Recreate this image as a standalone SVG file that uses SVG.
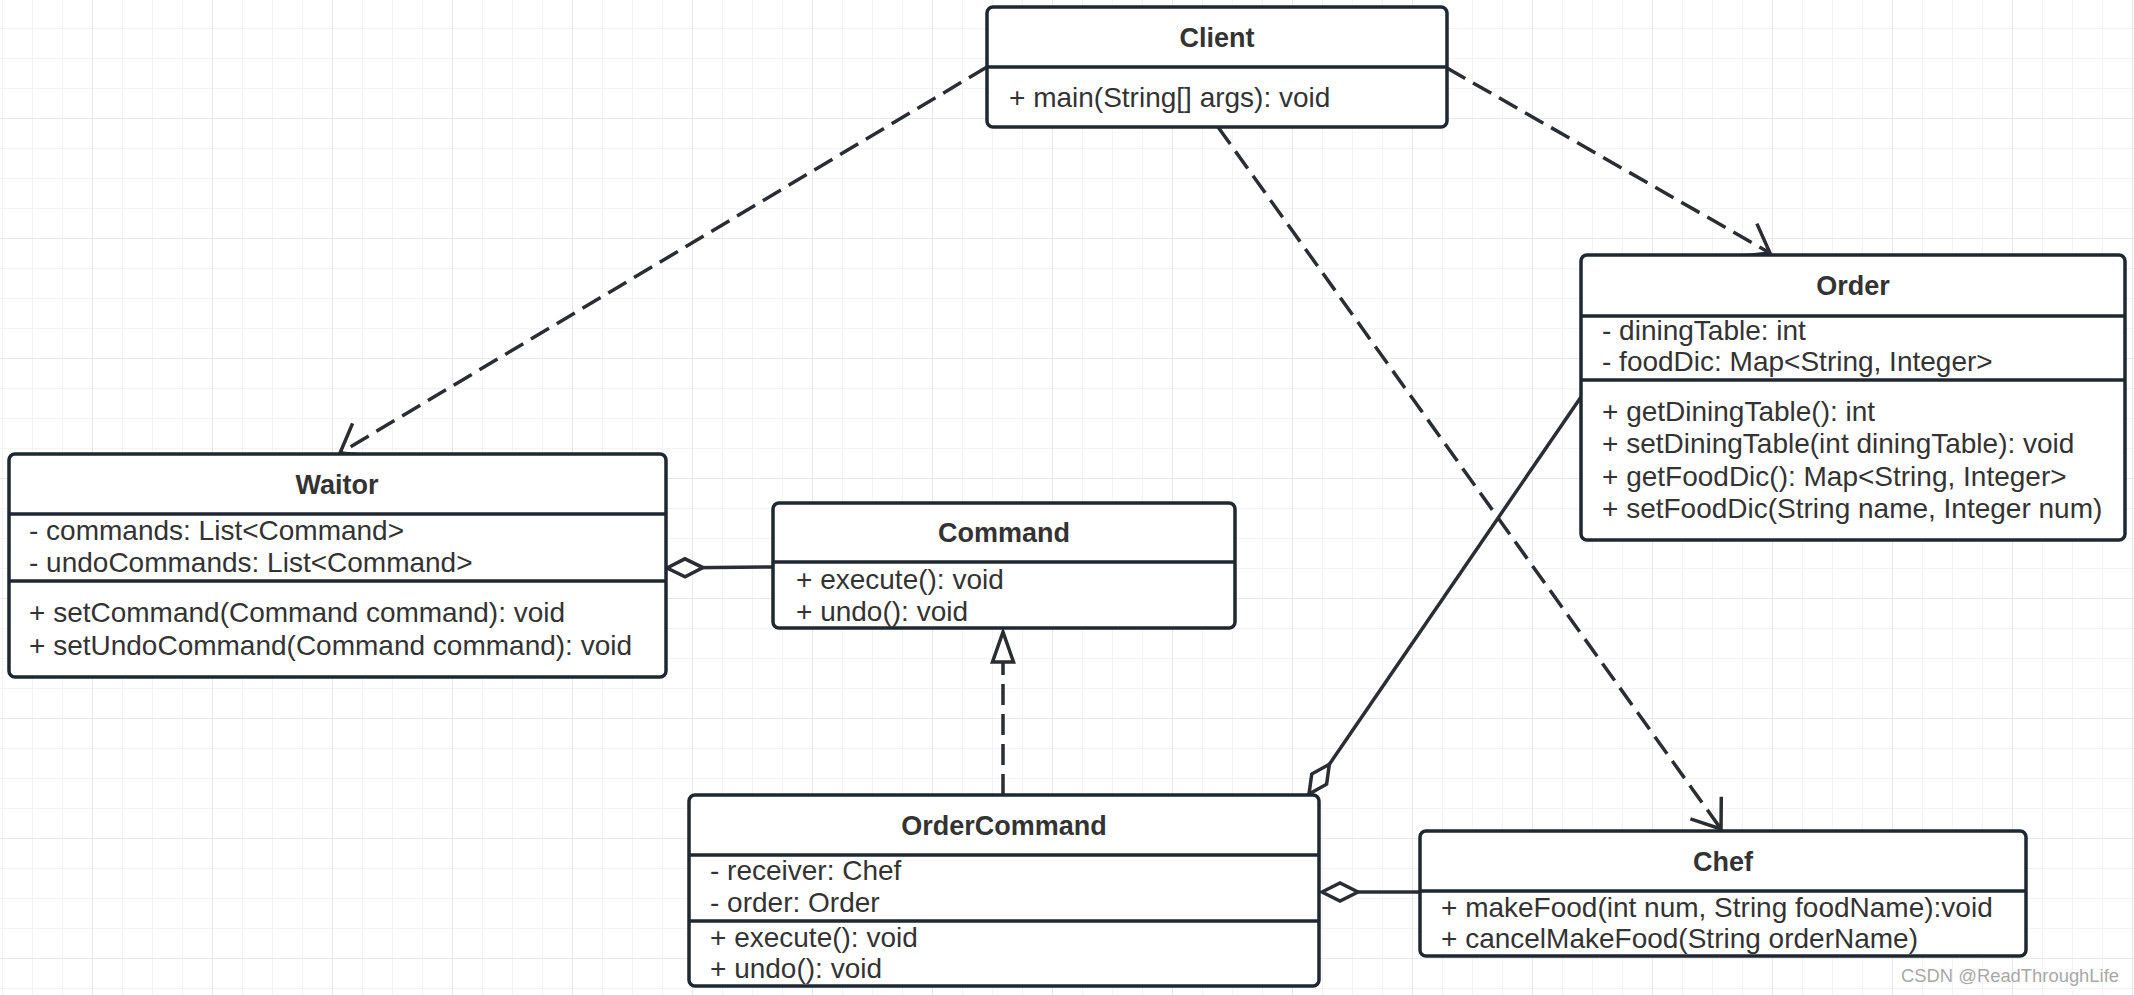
<svg xmlns="http://www.w3.org/2000/svg" width="2134" height="995" viewBox="0 0 2134 995">
<style>
.box{fill:#ffffff;stroke:#1f2730;stroke-width:3.5}
.div{stroke:#1f2730;stroke-width:3.5}
.title{font-family:"Liberation Sans",Arial,sans-serif;font-size:27px;font-weight:bold;fill:#333333;text-anchor:middle}
.mem{font-family:"Liberation Sans",Arial,sans-serif;font-size:28px;fill:#333333}
.dep{fill:none;stroke:#2a2d31;stroke-width:3.5;stroke-dasharray:21 9}
.sol{fill:none;stroke:#2a2d31;stroke-width:3.5}
</style>
<defs>
<pattern id="gMinor" width="30" height="30" x="2" y="28" patternUnits="userSpaceOnUse">
<path d="M0,0 V30 M0,0 H30" stroke="#f3f3f3" stroke-width="2" fill="none"/>
</pattern>
<pattern id="gMajor" width="120" height="120" x="92" y="118" patternUnits="userSpaceOnUse">
<path d="M0,0 V120 M0,0 H120" stroke="#e8e8e8" stroke-width="2" fill="none"/>
</pattern>
<marker id="openArrow" markerUnits="userSpaceOnUse" markerWidth="40" markerHeight="40" refX="0" refY="0" orient="auto" overflow="visible">
<path d="M-26,-19 L0,0 L-26,19" fill="none" stroke="#2a2d31" stroke-width="3.5"/>
</marker>
<marker id="hollowTri" markerUnits="userSpaceOnUse" markerWidth="40" markerHeight="40" refX="0" refY="0" orient="auto" overflow="visible">
<path d="M0,0 L-30,-10.5 L-30,10.5 Z" fill="#ffffff" stroke="#2a2d31" stroke-width="3.5"/>
</marker>
<marker id="diamond" markerUnits="userSpaceOnUse" markerWidth="40" markerHeight="40" refX="0" refY="0" orient="auto" overflow="visible">
<path d="M0,0 L18,-9 L36,0 L18,9 Z" fill="#ffffff" stroke="#2a2d31" stroke-width="3.5"/>
</marker>
</defs>
<rect width="2134" height="995" fill="#ffffff"/>
<rect width="2134" height="995" fill="url(#gMinor)"/>
<rect width="2134" height="995" fill="url(#gMajor)"/>

<g id="connectors">
<path class="dep" d="M987,67 L340,453" marker-end="url(#openArrow)"/>
<path class="dep" d="M1447,68 L1770,253" marker-end="url(#openArrow)"/>
<path class="dep" d="M1218,127 L1721,829" marker-end="url(#openArrow)"/>
<path class="dep" d="M1003,795 L1003,632" marker-end="url(#hollowTri)"/>
<path class="sol" d="M667,568 L773,567" marker-start="url(#diamond)"/>
<path class="sol" d="M1309,794 L1581,397" marker-start="url(#diamond)"/>
<path class="sol" d="M1322,892 L1420,892" marker-start="url(#diamond)"/>
</g>

<g id="Client">
<rect class="box" x="987" y="7" width="460" height="120" rx="6"/>
<line class="div" x1="987" y1="67" x2="1447" y2="67"/>
<text class="title" x="1217" y="47">Client</text>
<text class="mem" x="1009" y="107">+ main(String[] args): void</text>
</g>

<g id="Order">
<rect class="box" x="1581" y="255" width="544" height="285" rx="6"/>
<line class="div" x1="1581" y1="316" x2="2125" y2="316"/>
<line class="div" x1="1581" y1="380" x2="2125" y2="380"/>
<text class="title" x="1853" y="295">Order</text>
<text class="mem" x="1602" y="340">- diningTable: int</text>
<text class="mem" x="1602" y="371">- foodDic: Map&lt;String, Integer&gt;</text>
<text class="mem" x="1602" y="421">+ getDiningTable(): int</text>
<text class="mem" x="1602" y="453">+ setDiningTable(int diningTable): void</text>
<text class="mem" x="1602" y="486">+ getFoodDic(): Map&lt;String, Integer&gt;</text>
<text class="mem" x="1602" y="518">+ setFoodDic(String name, Integer num)</text>
</g>

<g id="Waitor">
<rect class="box" x="9" y="454" width="657" height="223" rx="6"/>
<line class="div" x1="9" y1="514" x2="666" y2="514"/>
<line class="div" x1="9" y1="581" x2="666" y2="581"/>
<text class="title" x="337" y="494">Waitor</text>
<text class="mem" x="29" y="540">- commands: List&lt;Command&gt;</text>
<text class="mem" x="29" y="572">- undoCommands: List&lt;Command&gt;</text>
<text class="mem" x="29" y="622">+ setCommand(Command command): void</text>
<text class="mem" x="29" y="655">+ setUndoCommand(Command command): void</text>
</g>

<g id="Command">
<rect class="box" x="773" y="503" width="462" height="125" rx="6"/>
<line class="div" x1="773" y1="562" x2="1235" y2="562"/>
<text class="title" x="1004" y="542">Command</text>
<text class="mem" x="796" y="589">+ execute(): void</text>
<text class="mem" x="796" y="621">+ undo(): void</text>
</g>

<g id="OrderCommand">
<rect class="box" x="689" y="795" width="630" height="191" rx="6"/>
<line class="div" x1="689" y1="855" x2="1319" y2="855"/>
<line class="div" x1="689" y1="921" x2="1319" y2="921"/>
<text class="title" x="1004" y="835">OrderCommand</text>
<text class="mem" x="710" y="880">- receiver: Chef</text>
<text class="mem" x="710" y="912">- order: Order</text>
<text class="mem" x="710" y="947">+ execute(): void</text>
<text class="mem" x="710" y="978">+ undo(): void</text>
</g>

<g id="Chef">
<rect class="box" x="1420" y="831" width="606" height="125" rx="6"/>
<line class="div" x1="1420" y1="891" x2="2026" y2="891"/>
<text class="title" x="1723" y="871">Chef</text>
<text class="mem" x="1441" y="917">+ makeFood(int num, String foodName):void</text>
<text class="mem" x="1441" y="948">+ cancelMakeFood(String orderName)</text>
</g>

<text x="1901" y="982" font-family="'Liberation Sans Narrow','Liberation Sans',Arial,sans-serif" font-size="18" fill="#a8a8a8" textLength="218" lengthAdjust="spacingAndGlyphs">CSDN @ReadThroughLife</text>
</svg>
